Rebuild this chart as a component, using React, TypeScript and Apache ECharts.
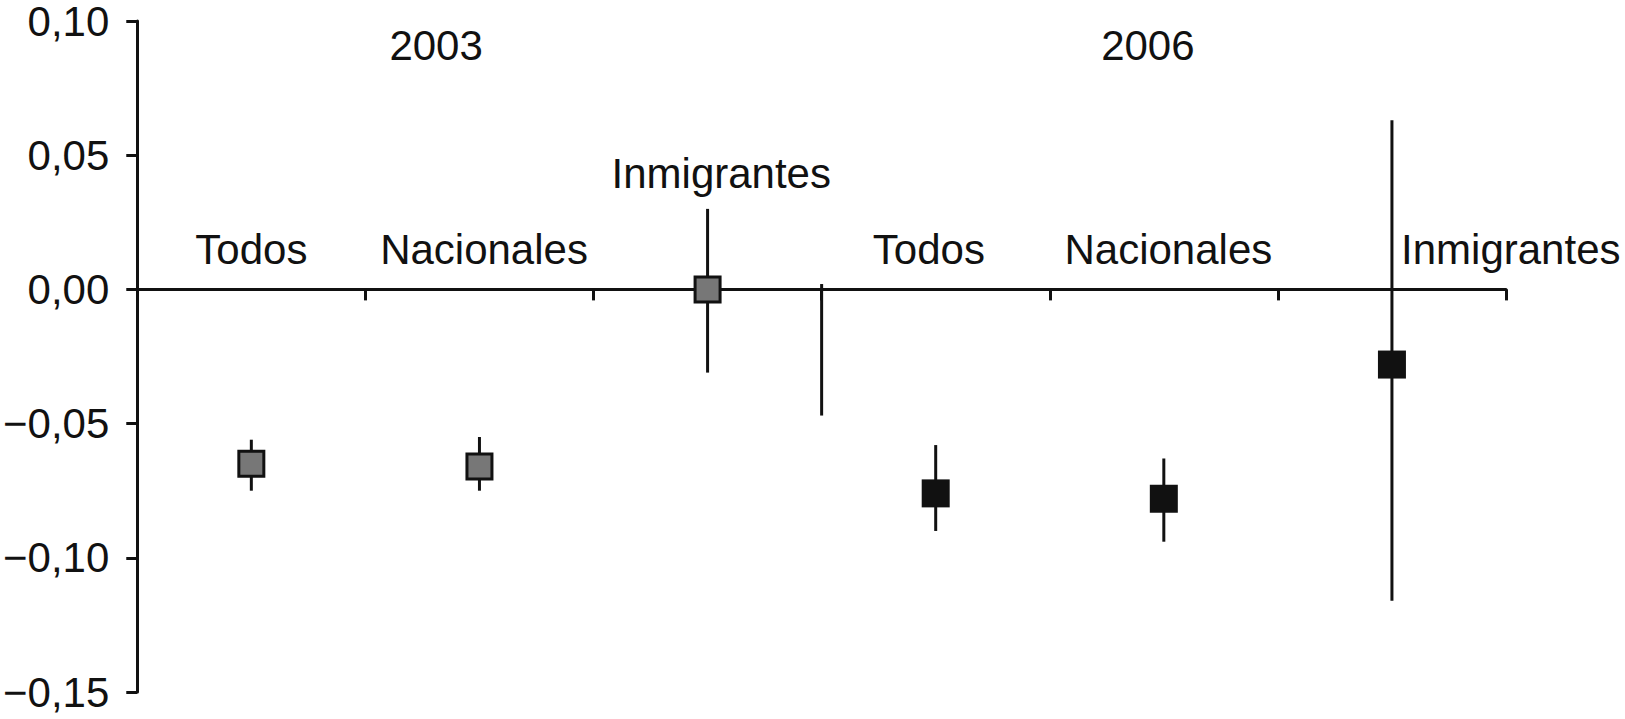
import React, { useEffect, useRef } from "react";
import * as echarts from "echarts";

// ---- data ----
const categories = [
  "Todos 2003",
  "Nacionales 2003",
  "Inmigrantes 2003",
  "Todos 2006",
  "Nacionales 2006",
  "Inmigrantes 2006",
];
const group2003 = [0, 1, 2];
const group2006 = [3, 4, 5];
const means = [-0.065, -0.066, 0.0, -0.076, -0.078, -0.028];
const lows = [-0.075, -0.075, -0.031, -0.09, -0.094, -0.116];
const highs = [-0.056, -0.055, 0.03, -0.058, -0.063, 0.063];

const yMin = -0.15;
const yMax = 0.1;
const yStep = 0.05;

// separator between the two years: [x (category units), from, to]
const separatorLine = [[2.5, 0.002, -0.047]];

// annotation texts and where they sit (category units, value units)
const annoTexts = ["2003", "2006", "Todos", "Nacionales", "Inmigrantes", "Todos", "Nacionales", "Inmigrantes"];
const annoX = [0.81, 3.93, 0, 1.02, 2.06, 2.97, 4.02, 5.04];
const annoY = [0.091, 0.091, 0.015, 0.015, 0.043, 0.015, 0.015, 0.015];
const annoAlign = ["center", "center", "center", "center", "center", "center", "center", "left"];

const FONT = "'Liberation Sans', Arial, Helvetica, sans-serif";
const INK = "#111111";
const GRAY = "#777777";

function fmt(v: number): string {
  const r = Math.round(v * 100) / 100;
  const s = Math.abs(r).toFixed(2).replace(".", ",");
  return r < 0 ? "\u2212" + s : s;
}

export default function App() {
  const ref = useRef<HTMLDivElement>(null);
  useEffect(() => {
    if (!ref.current) return;
    const chart = echarts.init(ref.current, undefined, { renderer: "svg" });
    const option: any = {
      animation: false,
      backgroundColor: "#ffffff",
      grid: { left: 128, right: 119, top: 20, bottom: 27, containLabel: false },
      xAxis: [
        {
          type: "category",
          data: categories,
          boundaryGap: true,
          axisLine: { show: true, onZero: true, lineStyle: { color: INK, width: 3 } },
          axisTick: { show: true, length: 11, inside: false, lineStyle: { color: INK, width: 3 } },
          axisLabel: { show: false },
          splitLine: { show: false },
        },
        {
          type: "value",
          show: false,
          min: -0.5,
          max: 5.5,
          axisLine: { onZero: false },
          splitLine: { show: false },
        },
      ],
      yAxis: {
        type: "value",
        min: yMin,
        max: yMax,
        interval: yStep,
        axisLine: { show: true, onZero: false, lineStyle: { color: INK, width: 3 } },
        axisTick: { show: true, length: 11, inside: false, lineStyle: { color: INK, width: 3 } },
        axisLabel: {
          margin: 28,
          color: INK,
          fontSize: 42,
          fontFamily: FONT,
          formatter: (v: number) => fmt(v),
        },
        splitLine: { show: false },
      },
      series: [
        {
          type: "custom",
          name: "errorbars",
          xAxisIndex: 0,
          silent: true,
          z: 3,
          encode: { x: 0, y: [1, 2] },
          data: categories.map((c, i) => [i, lows[i], highs[i]]),
          renderItem: (params: any, api: any) => {
            const x = api.value(0);
            const a = api.coord([x, api.value(1)]);
            const b = api.coord([x, api.value(2)]);
            return {
              type: "line",
              shape: { x1: a[0], y1: a[1], x2: b[0], y2: b[1] },
              style: { stroke: INK, lineWidth: 3 },
            };
          },
        },
        {
          type: "custom",
          name: "separator",
          xAxisIndex: 1,
          silent: true,
          z: 3,
          encode: { x: 0, y: [1, 2] },
          data: separatorLine,
          renderItem: (params: any, api: any) => {
            const x = api.value(0);
            const a = api.coord([x, api.value(1)]);
            const b = api.coord([x, api.value(2)]);
            return {
              type: "line",
              shape: { x1: a[0], y1: a[1], x2: b[0], y2: b[1] },
              style: { stroke: INK, lineWidth: 3 },
            };
          },
        },
        {
          type: "scatter",
          name: "2003",
          xAxisIndex: 0,
          silent: true,
          z: 5,
          symbol: "rect",
          symbolSize: 25,
          itemStyle: { color: GRAY, borderColor: INK, borderWidth: 3, opacity: 1 },
          data: group2003.map((i) => [i, means[i]]),
        },
        {
          type: "scatter",
          name: "2006",
          xAxisIndex: 0,
          silent: true,
          z: 5,
          symbol: "rect",
          symbolSize: 28,
          itemStyle: { color: INK, opacity: 1 },
          data: group2006.map((i) => [i, means[i]]),
        },
        {
          type: "custom",
          name: "annotations",
          xAxisIndex: 1,
          silent: true,
          z: 6,
          clip: false,
          encode: { x: 0, y: 1 },
          data: annoTexts.map((t, i) => [annoX[i], annoY[i]]),
          renderItem: (params: any, api: any) => {
            const i = params.dataIndex;
            const p = api.coord([api.value(0), api.value(1)]);
            return {
              type: "text",
              x: p[0],
              y: p[1],
              style: {
                text: annoTexts[i],
                fill: INK,
                fontSize: 42,
                fontFamily: FONT,
                align: annoAlign[i],
                verticalAlign: "middle",
              },
            };
          },
        },
      ],
    };
    chart.setOption(option);
    return () => chart.dispose();
  }, []);
  return (
    <div
      ref={ref}
      style={{ position: "fixed", left: 0, top: 0, width: 1625, height: 719, background: "#fff" }}
    />
  );
}
